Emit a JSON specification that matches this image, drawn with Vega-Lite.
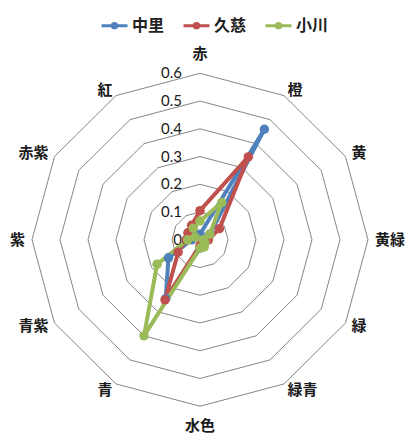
{
  "$schema": "https://vega.github.io/schema/vega-lite/v6.json",
  "width": 411,
  "height": 434,
  "padding": 0,
  "autosize": {"type": "fit", "contains": "padding"},
  "background": "white",
  "config": {"view": {"stroke": null}},
  "datasets": {
    "cats": [
      {"c": "赤", "i": 0}, {"c": "橙", "i": 1}, {"c": "黄", "i": 2}, {"c": "黄緑", "i": 3},
      {"c": "緑", "i": 4}, {"c": "緑青", "i": 5}, {"c": "水色", "i": 6}, {"c": "青", "i": 7},
      {"c": "青紫", "i": 8}, {"c": "紫", "i": 9}, {"c": "赤紫", "i": 10}, {"c": "紅", "i": 11}
    ],
    "ticks": [{"v": 0}, {"v": 0.1}, {"v": 0.2}, {"v": 0.3}, {"v": 0.4}, {"v": 0.5}, {"v": 0.6}],
    "series": [
      {"s": "中里", "c": "赤", "v": 0.02}, {"s": "中里", "c": "橙", "v": 0.46}, {"s": "中里", "c": "黄", "v": 0.04},
      {"s": "中里", "c": "黄緑", "v": 0.02}, {"s": "中里", "c": "緑", "v": 0.02}, {"s": "中里", "c": "緑青", "v": 0.02},
      {"s": "中里", "c": "水色", "v": 0.03}, {"s": "中里", "c": "青", "v": 0.245}, {"s": "中里", "c": "青紫", "v": 0.13},
      {"s": "中里", "c": "紫", "v": 0.03}, {"s": "中里", "c": "赤紫", "v": 0.02}, {"s": "中里", "c": "紅", "v": 0.02},
      {"s": "久慈", "c": "赤", "v": 0.105}, {"s": "久慈", "c": "橙", "v": 0.345}, {"s": "久慈", "c": "黄", "v": 0.08},
      {"s": "久慈", "c": "黄緑", "v": 0.03}, {"s": "久慈", "c": "緑", "v": 0.02}, {"s": "久慈", "c": "緑青", "v": 0.02},
      {"s": "久慈", "c": "水色", "v": 0.02}, {"s": "久慈", "c": "青", "v": 0.25}, {"s": "久慈", "c": "青紫", "v": 0.09},
      {"s": "久慈", "c": "紫", "v": 0.05}, {"s": "久慈", "c": "赤紫", "v": 0.05}, {"s": "久慈", "c": "紅", "v": 0.06},
      {"s": "小川", "c": "赤", "v": 0.068}, {"s": "小川", "c": "橙", "v": 0.155}, {"s": "小川", "c": "黄", "v": 0.04},
      {"s": "小川", "c": "黄緑", "v": 0.012}, {"s": "小川", "c": "緑", "v": 0.02}, {"s": "小川", "c": "緑青", "v": 0.03},
      {"s": "小川", "c": "水色", "v": 0.03}, {"s": "小川", "c": "青", "v": 0.40}, {"s": "小川", "c": "青紫", "v": 0.177},
      {"s": "小川", "c": "紫", "v": 0.044}, {"s": "小川", "c": "赤紫", "v": 0.02}, {"s": "小川", "c": "紅", "v": 0.048}
    ]
  },
  "layer": [
    {
      "data": {"name": "cats"},
      "transform": [
        {"calculate": "[0.1,0.2,0.3,0.4,0.5,0.6]", "as": "lv"},
        {"flatten": ["lv"]},
        {"calculate": "datum.lv*sin(datum.i*PI/6)", "as": "x"},
        {"calculate": "datum.lv*cos(datum.i*PI/6)", "as": "y"},
        {"calculate": "datum.lv*sin((datum.i+1)*PI/6)", "as": "x2"},
        {"calculate": "datum.lv*cos((datum.i+1)*PI/6)", "as": "y2"}
      ],
      "mark": {"type": "rule", "color": "#868686", "strokeWidth": 1},
      "encoding": {
        "x": {"field": "x", "type": "quantitative", "scale": {"domain": [-0.7143, 0.7536], "nice": false, "zero": false}, "axis": null},
        "y": {"field": "y", "type": "quantitative", "scale": {"domain": [-0.6857, 0.8643], "nice": false, "zero": false}, "axis": null},
        "x2": {"field": "x2"},
        "y2": {"field": "y2"}
      }
    },
    {
      "data": {"name": "ticks"},
      "mark": {"type": "text", "align": "right", "baseline": "middle", "dx": -18, "font": "Lato", "fontSize": 15, "color": "#1a1a1a"},
      "encoding": {
        "x": {"datum": 0, "type": "quantitative"},
        "y": {"field": "v", "type": "quantitative"},
        "text": {"field": "v", "type": "quantitative", "format": ".1~f"}
      }
    },
    {
      "data": {"name": "series"},
      "transform": [
        {"lookup": "c", "from": {"data": {"name": "cats"}, "key": "c", "fields": ["i"]}},
        {"window": [{"op": "lead", "field": "v", "as": "vn"}, {"op": "first_value", "field": "v", "as": "vf"}], "groupby": ["s"], "sort": [{"field": "i", "order": "ascending"}], "frame": [null, null]},
        {"calculate": "isValid(datum.vn) ? datum.vn : datum.vf", "as": "vnext"},
        {"calculate": "datum.v*sin(datum.i*PI/6)", "as": "x"},
        {"calculate": "datum.v*cos(datum.i*PI/6)", "as": "y"},
        {"calculate": "datum.vnext*sin((datum.i+1)*PI/6)", "as": "x2"},
        {"calculate": "datum.vnext*cos((datum.i+1)*PI/6)", "as": "y2"}
      ],
      "mark": {"type": "rule", "strokeWidth": 4, "strokeCap": "round"},
      "encoding": {
        "x": {"field": "x", "type": "quantitative"},
        "y": {"field": "y", "type": "quantitative"},
        "x2": {"field": "x2"},
        "y2": {"field": "y2"},
        "color": {"field": "s", "type": "nominal", "scale": {"domain": ["中里", "久慈", "小川"], "range": ["#4F81BD", "#C0504D", "#9BBB59"]},
          "legend": {"title": null, "orient": "none", "legendX": 100, "legendY": 11, "direction": "horizontal",
            "symbolType": "M-1,0H1M-0.17,0A0.17,0.17,0,1,1,0.17,0A0.17,0.17,0,1,1,-0.17,0Z", "symbolSize": 676, "symbolStrokeWidth": 3,
            "labelFont": "Noto Sans CJK JP", "labelFontSize": 16, "labelFontWeight": "bold", "labelColor": "#222222", "labelOffset": 3, "columnPadding": 12, "symbolOpacity": 1}}
      }
    },
    {
      "data": {"name": "series"},
      "transform": [
        {"lookup": "c", "from": {"data": {"name": "cats"}, "key": "c", "fields": ["i"]}},
        {"calculate": "datum.v*sin(datum.i*PI/6)", "as": "x"},
        {"calculate": "datum.v*cos(datum.i*PI/6)", "as": "y"}
      ],
      "mark": {"type": "point", "filled": true, "size": 90, "strokeWidth": 1, "opacity": 1, "shape": "circle"},
      "encoding": {
        "x": {"field": "x", "type": "quantitative"},
        "y": {"field": "y", "type": "quantitative"},
        "color": {"field": "s", "type": "nominal", "scale": {"domain": ["中里", "久慈", "小川"], "range": ["#4F81BD", "#C0504D", "#9BBB59"]},
          "legend": {"title": null, "orient": "none", "legendX": 100, "legendY": 11, "direction": "horizontal",
            "symbolType": "M-1,0H1M-0.17,0A0.17,0.17,0,1,1,0.17,0A0.17,0.17,0,1,1,-0.17,0Z", "symbolSize": 676, "symbolStrokeWidth": 3,
            "labelFont": "Noto Sans CJK JP", "labelFontSize": 16, "labelFontWeight": "bold", "labelColor": "#222222", "labelOffset": 3, "columnPadding": 12, "symbolOpacity": 1}}
      }
    },
    {
      "data": {"name": "cats"},
      "transform": [
        {"filter": "datum.i >= 1 && datum.i <= 5"},
        {"calculate": "0.625*sin(datum.i*PI/6)", "as": "lx"},
        {"calculate": "0.625*cos(datum.i*PI/6)", "as": "ly"}
      ],
      "mark": {"type": "text", "align": "left", "baseline": "middle", "font": "Noto Sans CJK JP", "fontSize": 15, "fontWeight": "bold", "color": "#1a1a1a"},
      "encoding": {
        "x": {"field": "lx", "type": "quantitative"},
        "y": {"field": "ly", "type": "quantitative"},
        "text": {"field": "c"}
      }
    },
    {
      "data": {"name": "cats"},
      "transform": [
        {"filter": "datum.i >= 7"},
        {"calculate": "0.625*sin(datum.i*PI/6)", "as": "lx"},
        {"calculate": "0.625*cos(datum.i*PI/6)", "as": "ly"}
      ],
      "mark": {"type": "text", "align": "right", "baseline": "middle", "font": "Noto Sans CJK JP", "fontSize": 15, "fontWeight": "bold", "color": "#1a1a1a"},
      "encoding": {
        "x": {"field": "lx", "type": "quantitative"},
        "y": {"field": "ly", "type": "quantitative"},
        "text": {"field": "c"}
      }
    },
    {
      "data": {"name": "cats"},
      "transform": [
        {"filter": "datum.i == 0 || datum.i == 6"},
        {"calculate": "0.67*sin(datum.i*PI/6)", "as": "lx"},
        {"calculate": "0.67*cos(datum.i*PI/6)", "as": "ly"}
      ],
      "mark": {"type": "text", "align": "center", "baseline": "middle", "font": "Noto Sans CJK JP", "fontSize": 15, "fontWeight": "bold", "color": "#1a1a1a"},
      "encoding": {
        "x": {"field": "lx", "type": "quantitative"},
        "y": {"field": "ly", "type": "quantitative"},
        "text": {"field": "c"}
      }
    }
  ]
}
